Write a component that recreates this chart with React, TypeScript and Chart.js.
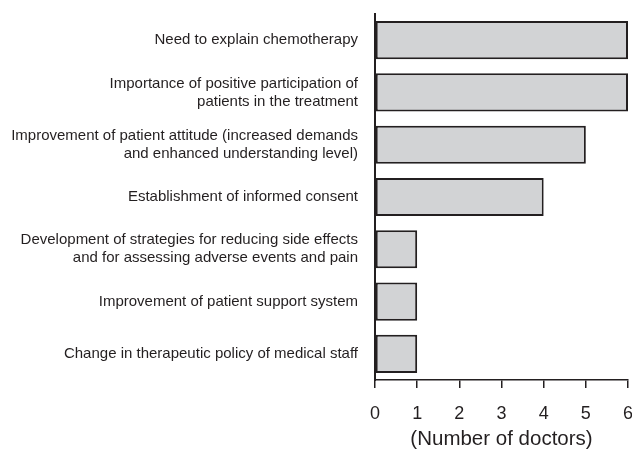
import React, { useEffect, useRef } from "react";
import { Chart, registerables } from "chart.js";

Chart.register(...registerables);

const categories: (string | string[])[] = [
  "Need to explain chemotherapy",
  ["Importance of positive participation of", "patients in the treatment"],
  ["Improvement of patient attitude (increased demands", "and enhanced understanding level)"],
  "Establishment of informed consent",
  ["Development of strategies for reducing side effects", "and for assessing adverse events and pain"],
  "Improvement of patient support system",
  "Change in therapeutic policy of medical staff",
];
const doctorCounts = [6, 6, 5, 4, 1, 1, 1];
const axisTitle = "(Number of doctors)";

const INK = "#231f20";

export default function App() {
  const ref = useRef<HTMLCanvasElement | null>(null);
  useEffect(() => {
    if (!ref.current) return;
    const chart = new Chart(ref.current, {
      type: "bar",
      data: {
        labels: categories,
        datasets: [
          {
            data: doctorCounts,
            backgroundColor: "#d2d3d5",
            borderColor: INK,
            borderWidth: 2,
            borderSkipped: false,
            categoryPercentage: 0.73,
            barPercentage: 1,
          },
        ],
      },
      options: {
        indexAxis: "y",
        animation: false,
        responsive: true,
        maintainAspectRatio: false,
        layout: { padding: { top: 14, right: 4, left: 0, bottom: 0 } },
        plugins: { legend: { display: false }, tooltip: { enabled: false } },
        scales: {
          x: {
            min: 0,
            max: 6,
            ticks: {
              stepSize: 1,
              color: INK,
              padding: 15,
              font: { family: "'Liberation Sans'", size: 18 },
            },
            grid: { drawOnChartArea: false, tickLength: 8, color: INK, lineWidth: 1.5 },
            border: { color: INK, width: 1.5 },
            title: {
              display: true,
              text: axisTitle,
              color: INK,
              font: { family: "Liberation Sans", size: 20.5 },
              padding: { top: 0, bottom: -2 },
            },
            afterFit: (s: any) => {
              s.height = 70;
              s.paddingLeft = 0;
              s.paddingRight = 0;
            },
          },
          y: {
            ticks: {
              color: INK,
              padding: 17,
              font: { family: "'Liberation Sans'", size: 15, lineHeight: 1.2 },
            },
            grid: { display: true, drawOnChartArea: false, drawTicks: false, tickLength: 0 },
            border: { color: INK, width: 2 },
            afterFit: (s: any) => {
              s.width = 375;
              s.paddingTop = 0;
              s.paddingBottom = 0;
            },
          },
        },
      },
    });
    return () => chart.destroy();
  }, []);
  return (
    <div style={{ position: "fixed", left: 0, top: 0, width: 632, height: 450, background: "#fff" }}>
      <canvas ref={ref} />
    </div>
  );
}
